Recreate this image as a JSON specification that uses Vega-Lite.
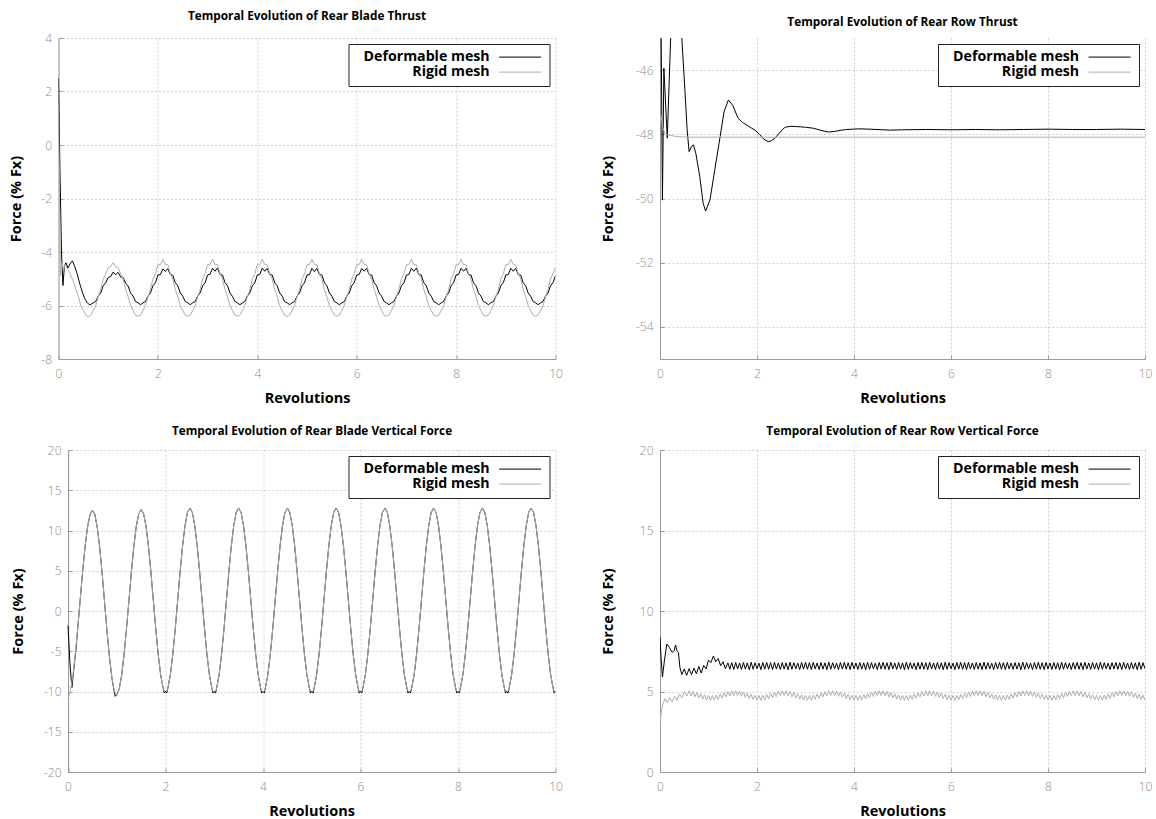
{
  "$schema": "https://vega.github.io/schema/vega-lite/v6.json",
  "background": "white",
  "padding": {"left": 7.5, "top": 11, "right": 0, "bottom": 0},
  "config": {
    "font": "Open Sans",
    "view": {"stroke": null},
    "locale": {"number": {"decimal": ".", "thousands": ",", "grouping": [3], "currency": ["", ""], "minus": "-"}},
    "title": {"font": "Open Sans", "fontSize": 11.8, "fontWeight": "bold", "color": "#000000", "offset": 9},
    "axis": {
      "domainColor": "#9a9a9a", "domainWidth": 1,
      "grid": true, "gridColor": "#cfcfcf", "gridDash": [2, 2], "gridWidth": 1,
      "ticks": true, "tickColor": "#9a9a9a", "tickSize": -4,
      "labelColor": "#8c8c8c", "labelFont": "Open Sans", "labelFontSize": 12, "labelFontWeight": 300, "labelFlush": false, "labelPadding": 11,
      "titleColor": "#000000", "titleFont": "Open Sans", "titleFontSize": 14.5, "titleFontWeight": "bold"
    },
    "axisX": {"titlePadding": 12, "labelPadding": 13},
    "axisY": {"titlePadding": 17.5},
    "legend": {
      "orient": "top-right", "offset": 6, "title": null,
      "strokeColor": "#222222", "fillColor": "#ffffff", "padding": 6, "rowPadding": 0,
      "symbolType": "M-4.2,0H4.2", "symbolSize": 100, "symbolStrokeWidth": 1, "symbolOffset": 158.5,
      "labelAlign": "right", "labelOffset": -37.5, "labelFont": "Open Sans", "labelFontSize": 14.2, "labelFontWeight": "bold", "labelColor": "#000000"
    }
  },
  "datasets": {
    "bladeThrustDef": [
      {"x":0,"y":2.5},{"x":0.03,"y":-1},{"x":0.06,"y":-4},{"x":0.09,"y":-5.25},{"x":0.12,"y":-4.5},{"x":0.15,"y":-4.4},{"x":0.19,"y":-4.6},{"x":0.23,"y":-4.45},{"x":0.28,"y":-4.33},{"x":0.33,"y":-4.55},{"x":0.38,"y":-4.85},{"x":0.43,"y":-5.2},{"x":0.48,"y":-5.5},{"x":0.53,"y":-5.75},{"x":0.58,"y":-5.9},{"x":0.63,"y":-5.98},{"x":0.7,"y":-5.9},{"x":0.75,"y":-5.85},{"x":0.8,"y":-5.65},{"x":0.85,"y":-5.53},{"x":0.9,"y":-5.26},{"x":0.95,"y":-5.15},
      {"x":1,"y":-4.95},{"x":1.05,"y":-4.92},{"x":1.1,"y":-4.75},{"x":1.15,"y":-4.85},{"x":1.2,"y":-4.76},{"x":1.25,"y":-4.93},{"x":1.3,"y":-4.95},{"x":1.35,"y":-5.17},{"x":1.4,"y":-5.27},{"x":1.45,"y":-5.53},{"x":1.5,"y":-5.65},{"x":1.55,"y":-5.85},{"x":1.6,"y":-5.9},{"x":1.65,"y":-5.97},{"x":1.7,"y":-5.9},{"x":1.75,"y":-5.85},{"x":1.8,"y":-5.65},{"x":1.85,"y":-5.53},{"x":1.9,"y":-5.26},{"x":1.95,"y":-5.15},
      {"x":2,"y":-4.86},{"x":2.05,"y":-4.84},{"x":2.1,"y":-4.63},{"x":2.15,"y":-4.73},{"x":2.2,"y":-4.62},{"x":2.25,"y":-4.84},{"x":2.3,"y":-4.87},{"x":2.35,"y":-5.15},{"x":2.4,"y":-5.26},{"x":2.45,"y":-5.53},{"x":2.5,"y":-5.65},{"x":2.55,"y":-5.85},{"x":2.6,"y":-5.9},{"x":2.65,"y":-5.97},{"x":2.7,"y":-5.9},{"x":2.75,"y":-5.85},{"x":2.8,"y":-5.65},{"x":2.85,"y":-5.53},{"x":2.9,"y":-5.26},{"x":2.95,"y":-5.15},
      {"x":3,"y":-4.86},{"x":3.05,"y":-4.83},{"x":3.1,"y":-4.61},{"x":3.15,"y":-4.72},{"x":3.2,"y":-4.6},{"x":3.25,"y":-4.84},{"x":3.3,"y":-4.86},{"x":3.35,"y":-5.14},{"x":3.4,"y":-5.26},{"x":3.45,"y":-5.53},{"x":3.5,"y":-5.66},{"x":3.55,"y":-5.85},{"x":3.6,"y":-5.9},{"x":3.65,"y":-5.97},{"x":3.7,"y":-5.91},{"x":3.75,"y":-5.85},{"x":3.8,"y":-5.65},{"x":3.85,"y":-5.53},{"x":3.9,"y":-5.26},{"x":3.95,"y":-5.15},
      {"x":4,"y":-4.86},{"x":4.05,"y":-4.84},{"x":4.1,"y":-4.6},{"x":4.15,"y":-4.72},{"x":4.2,"y":-4.61},{"x":4.25,"y":-4.84},{"x":4.3,"y":-4.86},{"x":4.35,"y":-5.15},{"x":4.4,"y":-5.26},{"x":4.45,"y":-5.53},{"x":4.5,"y":-5.65},{"x":4.55,"y":-5.85},{"x":4.6,"y":-5.9},{"x":4.65,"y":-5.97},{"x":4.7,"y":-5.9},{"x":4.75,"y":-5.85},{"x":4.8,"y":-5.65},{"x":4.85,"y":-5.53},{"x":4.9,"y":-5.26},{"x":4.95,"y":-5.15},
      {"x":5,"y":-4.86},{"x":5.05,"y":-4.84},{"x":5.1,"y":-4.61},{"x":5.15,"y":-4.73},{"x":5.2,"y":-4.61},{"x":5.25,"y":-4.84},{"x":5.3,"y":-4.86},{"x":5.35,"y":-5.15},{"x":5.4,"y":-5.26},{"x":5.45,"y":-5.53},{"x":5.5,"y":-5.65},{"x":5.55,"y":-5.85},{"x":5.6,"y":-5.9},{"x":5.65,"y":-5.97},{"x":5.7,"y":-5.9},{"x":5.75,"y":-5.85},{"x":5.8,"y":-5.65},{"x":5.85,"y":-5.53},{"x":5.9,"y":-5.26},{"x":5.95,"y":-5.15},
      {"x":6,"y":-4.86},{"x":6.05,"y":-4.84},{"x":6.1,"y":-4.62},{"x":6.15,"y":-4.72},{"x":6.2,"y":-4.61},{"x":6.25,"y":-4.84},{"x":6.3,"y":-4.86},{"x":6.35,"y":-5.15},{"x":6.4,"y":-5.26},{"x":6.45,"y":-5.53},{"x":6.5,"y":-5.65},{"x":6.55,"y":-5.85},{"x":6.6,"y":-5.9},{"x":6.65,"y":-5.97},{"x":6.7,"y":-5.9},{"x":6.75,"y":-5.85},{"x":6.8,"y":-5.65},{"x":6.85,"y":-5.53},{"x":6.9,"y":-5.26},{"x":6.95,"y":-5.15},
      {"x":7,"y":-4.86},{"x":7.05,"y":-4.84},{"x":7.1,"y":-4.61},{"x":7.15,"y":-4.72},{"x":7.2,"y":-4.6},{"x":7.25,"y":-4.84},{"x":7.3,"y":-4.86},{"x":7.35,"y":-5.15},{"x":7.4,"y":-5.26},{"x":7.45,"y":-5.53},{"x":7.5,"y":-5.65},{"x":7.55,"y":-5.85},{"x":7.6,"y":-5.9},{"x":7.65,"y":-5.97},{"x":7.7,"y":-5.9},{"x":7.75,"y":-5.85},{"x":7.8,"y":-5.65},{"x":7.85,"y":-5.53},{"x":7.9,"y":-5.26},{"x":7.95,"y":-5.15},
      {"x":8,"y":-4.86},{"x":8.05,"y":-4.84},{"x":8.1,"y":-4.61},{"x":8.15,"y":-4.72},{"x":8.2,"y":-4.61},{"x":8.25,"y":-4.84},{"x":8.3,"y":-4.86},{"x":8.35,"y":-5.15},{"x":8.4,"y":-5.26},{"x":8.45,"y":-5.53},{"x":8.5,"y":-5.65},{"x":8.55,"y":-5.85},{"x":8.6,"y":-5.9},{"x":8.65,"y":-5.97},{"x":8.7,"y":-5.9},{"x":8.75,"y":-5.85},{"x":8.8,"y":-5.65},{"x":8.85,"y":-5.53},{"x":8.9,"y":-5.26},{"x":8.95,"y":-5.15},
      {"x":9,"y":-4.86},{"x":9.05,"y":-4.84},{"x":9.1,"y":-4.61},{"x":9.15,"y":-4.72},{"x":9.2,"y":-4.61},{"x":9.25,"y":-4.84},{"x":9.3,"y":-4.86},{"x":9.35,"y":-5.15},{"x":9.4,"y":-5.26},{"x":9.45,"y":-5.53},{"x":9.5,"y":-5.65},{"x":9.55,"y":-5.85},{"x":9.6,"y":-5.9},{"x":9.65,"y":-5.97},{"x":9.7,"y":-5.9},{"x":9.75,"y":-5.85},{"x":9.8,"y":-5.65},{"x":9.85,"y":-5.53},{"x":9.9,"y":-5.26},{"x":9.95,"y":-5.15},
      {"x":10,"y":-4.88}
    ],
    "bladeThrustRig": [
      {"x":0,"y":1.5},{"x":0.02,"y":-2},{"x":0.04,"y":-4.9},{"x":0.07,"y":-4.4},{"x":0.1,"y":-4.7},{"x":0.13,"y":-4.45},{"x":0.17,"y":-4.6},{"x":0.21,"y":-4.7},{"x":0.25,"y":-4.9},{"x":0.3,"y":-5.1},{"x":0.35,"y":-5.4},{"x":0.4,"y":-5.67},{"x":0.45,"y":-6},{"x":0.5,"y":-6.19},{"x":0.55,"y":-6.36},{"x":0.6,"y":-6.42},{"x":0.65,"y":-6.36},{"x":0.7,"y":-6.19},{"x":0.75,"y":-6},{"x":0.8,"y":-5.67},{"x":0.85,"y":-5.4},{"x":0.9,"y":-5.01},{"x":0.95,"y":-4.81},
      {"x":1,"y":-4.58},{"x":1.05,"y":-4.55},{"x":1.1,"y":-4.4},{"x":1.15,"y":-4.55},{"x":1.2,"y":-4.58},{"x":1.25,"y":-4.81},{"x":1.3,"y":-5.01},{"x":1.35,"y":-5.4},{"x":1.4,"y":-5.67},{"x":1.45,"y":-6},{"x":1.5,"y":-6.19},{"x":1.55,"y":-6.36},{"x":1.6,"y":-6.4},{"x":1.65,"y":-6.36},{"x":1.7,"y":-6.19},{"x":1.75,"y":-6},{"x":1.8,"y":-5.67},{"x":1.85,"y":-5.4},{"x":1.9,"y":-5.01},{"x":1.95,"y":-4.81},
      {"x":2,"y":-4.48},{"x":2.05,"y":-4.47},{"x":2.1,"y":-4.28},{"x":2.15,"y":-4.47},{"x":2.2,"y":-4.48},{"x":2.25,"y":-4.81},{"x":2.3,"y":-5.01},{"x":2.35,"y":-5.4},{"x":2.4,"y":-5.67},{"x":2.45,"y":-6},{"x":2.5,"y":-6.19},{"x":2.55,"y":-6.36},{"x":2.6,"y":-6.4},{"x":2.65,"y":-6.36},{"x":2.7,"y":-6.19},{"x":2.75,"y":-6},{"x":2.8,"y":-5.67},{"x":2.85,"y":-5.4},{"x":2.9,"y":-5.01},{"x":2.95,"y":-4.81},
      {"x":3,"y":-4.48},{"x":3.05,"y":-4.46},{"x":3.1,"y":-4.27},{"x":3.15,"y":-4.47},{"x":3.2,"y":-4.47},{"x":3.25,"y":-4.81},{"x":3.3,"y":-5.01},{"x":3.35,"y":-5.4},{"x":3.4,"y":-5.67},{"x":3.45,"y":-6},{"x":3.5,"y":-6.19},{"x":3.55,"y":-6.36},{"x":3.6,"y":-6.4},{"x":3.65,"y":-6.36},{"x":3.7,"y":-6.19},{"x":3.75,"y":-6},{"x":3.8,"y":-5.67},{"x":3.85,"y":-5.4},{"x":3.9,"y":-5.01},{"x":3.95,"y":-4.81},
      {"x":4,"y":-4.48},{"x":4.05,"y":-4.47},{"x":4.1,"y":-4.27},{"x":4.15,"y":-4.47},{"x":4.2,"y":-4.48},{"x":4.25,"y":-4.81},{"x":4.3,"y":-5.01},{"x":4.35,"y":-5.4},{"x":4.4,"y":-5.67},{"x":4.45,"y":-6},{"x":4.5,"y":-6.19},{"x":4.55,"y":-6.36},{"x":4.6,"y":-6.41},{"x":4.65,"y":-6.36},{"x":4.7,"y":-6.19},{"x":4.75,"y":-6},{"x":4.8,"y":-5.67},{"x":4.85,"y":-5.4},{"x":4.9,"y":-5.01},{"x":4.95,"y":-4.81},
      {"x":5,"y":-4.48},{"x":5.05,"y":-4.47},{"x":5.1,"y":-4.27},{"x":5.15,"y":-4.47},{"x":5.2,"y":-4.48},{"x":5.25,"y":-4.81},{"x":5.3,"y":-5.01},{"x":5.35,"y":-5.4},{"x":5.4,"y":-5.67},{"x":5.45,"y":-6},{"x":5.5,"y":-6.19},{"x":5.55,"y":-6.36},{"x":5.6,"y":-6.4},{"x":5.65,"y":-6.36},{"x":5.7,"y":-6.19},{"x":5.75,"y":-6},{"x":5.8,"y":-5.67},{"x":5.85,"y":-5.4},{"x":5.9,"y":-5.01},{"x":5.95,"y":-4.81},
      {"x":6,"y":-4.48},{"x":6.05,"y":-4.47},{"x":6.1,"y":-4.27},{"x":6.15,"y":-4.47},{"x":6.2,"y":-4.48},{"x":6.25,"y":-4.81},{"x":6.3,"y":-5.01},{"x":6.35,"y":-5.4},{"x":6.4,"y":-5.67},{"x":6.45,"y":-6},{"x":6.5,"y":-6.19},{"x":6.55,"y":-6.36},{"x":6.6,"y":-6.4},{"x":6.65,"y":-6.36},{"x":6.7,"y":-6.19},{"x":6.75,"y":-6},{"x":6.8,"y":-5.67},{"x":6.85,"y":-5.4},{"x":6.9,"y":-5.01},{"x":6.95,"y":-4.81},
      {"x":7,"y":-4.48},{"x":7.05,"y":-4.47},{"x":7.1,"y":-4.27},{"x":7.15,"y":-4.47},{"x":7.2,"y":-4.48},{"x":7.25,"y":-4.81},{"x":7.3,"y":-5.01},{"x":7.35,"y":-5.4},{"x":7.4,"y":-5.67},{"x":7.45,"y":-6},{"x":7.5,"y":-6.19},{"x":7.55,"y":-6.36},{"x":7.6,"y":-6.4},{"x":7.65,"y":-6.36},{"x":7.7,"y":-6.19},{"x":7.75,"y":-6},{"x":7.8,"y":-5.67},{"x":7.85,"y":-5.4},{"x":7.9,"y":-5.01},{"x":7.95,"y":-4.81},
      {"x":8,"y":-4.48},{"x":8.05,"y":-4.47},{"x":8.1,"y":-4.27},{"x":8.15,"y":-4.47},{"x":8.2,"y":-4.48},{"x":8.25,"y":-4.81},{"x":8.3,"y":-5.01},{"x":8.35,"y":-5.4},{"x":8.4,"y":-5.67},{"x":8.45,"y":-6},{"x":8.5,"y":-6.19},{"x":8.55,"y":-6.36},{"x":8.6,"y":-6.4},{"x":8.65,"y":-6.36},{"x":8.7,"y":-6.19},{"x":8.75,"y":-6},{"x":8.8,"y":-5.67},{"x":8.85,"y":-5.4},{"x":8.9,"y":-5.01},{"x":8.95,"y":-4.81},
      {"x":9,"y":-4.48},{"x":9.05,"y":-4.47},{"x":9.1,"y":-4.27},{"x":9.15,"y":-4.47},{"x":9.2,"y":-4.48},{"x":9.25,"y":-4.81},{"x":9.3,"y":-5.01},{"x":9.35,"y":-5.4},{"x":9.4,"y":-5.67},{"x":9.45,"y":-6},{"x":9.5,"y":-6.19},{"x":9.55,"y":-6.36},{"x":9.6,"y":-6.4},{"x":9.65,"y":-6.36},{"x":9.7,"y":-6.19},{"x":9.75,"y":-6},{"x":9.8,"y":-5.67},{"x":9.85,"y":-5.4},{"x":9.9,"y":-5.01},{"x":9.95,"y":-4.81},
      {"x":10,"y":-4.56}
    ],
    "rowThrustDef": [
      {"x":0,"y":-40},{"x":0.02,"y":-44},{"x":0.05,"y":-50.05},{"x":0.08,"y":-45.94},{"x":0.15,"y":-48.12},{"x":0.22,"y":-45},{"x":0.3,"y":-42},{"x":0.38,"y":-42},{"x":0.45,"y":-45},{"x":0.52,"y":-46.8},{"x":0.56,"y":-47.87},{"x":0.6,"y":-48.54},{"x":0.65,"y":-48.38},{"x":0.69,"y":-48.33},{"x":0.74,"y":-48.6},{"x":0.82,"y":-49.32},{"x":0.89,"y":-50.15},{"x":0.94,"y":-50.39},{"x":1.03,"y":-50.05},{"x":1.13,"y":-49.1},{"x":1.24,"y":-48.07},{"x":1.32,"y":-47.3},{"x":1.41,"y":-46.93},{"x":1.5,"y":-47.1},{"x":1.61,"y":-47.5},{"x":1.7,"y":-47.63},{"x":1.79,"y":-47.71},{"x":1.88,"y":-47.8},{"x":1.96,"y":-47.87},{"x":2.05,"y":-48},{"x":2.14,"y":-48.15},{"x":2.23,"y":-48.23},{"x":2.3,"y":-48.2},{"x":2.37,"y":-48.12},{"x":2.45,"y":-47.98},{"x":2.52,"y":-47.86},{"x":2.58,"y":-47.78},{"x":2.7,"y":-47.75},{"x":2.82,"y":-47.76},{"x":3,"y":-47.78},{"x":3.16,"y":-47.81},{"x":3.3,"y":-47.87},{"x":3.47,"y":-47.93},{"x":3.6,"y":-47.91},{"x":3.75,"y":-47.87},{"x":3.85,"y":-47.85},{"x":4.1,"y":-47.83},{"x":4.33,"y":-47.84},{"x":4.74,"y":-47.87},{"x":5,"y":-47.86},{"x":5.5,"y":-47.85},{"x":6,"y":-47.86},{"x":6.5,"y":-47.85},{"x":7,"y":-47.86},{"x":7.5,"y":-47.85},{"x":8,"y":-47.84},{"x":8.5,"y":-47.85},{"x":9,"y":-47.85},{"x":9.5,"y":-47.84},{"x":10,"y":-47.85}
    ],
    "rowThrustRig": [
      {"x":0,"y":-47.6},{"x":0.02,"y":-47.4},{"x":0.05,"y":-47.75},{"x":0.1,"y":-47.97},{"x":0.2,"y":-48.03},{"x":0.34,"y":-48.07},{"x":0.55,"y":-48.09},{"x":1,"y":-48.09},{"x":3,"y":-48.09},{"x":6,"y":-48.09},{"x":10,"y":-48.09}
    ],
    "bladeVertDef": [
      {"x":0,"y":-1.8},{"x":0.04,"y":-6.5},{"x":0.08,"y":-9.5},{"x":0.12,"y":-7.2},{"x":0.16,"y":-5},{"x":0.2,"y":-2.1},{"x":0.25,"y":1.4},{"x":0.3,"y":4.9},{"x":0.35,"y":8},{"x":0.4,"y":10.4},{"x":0.45,"y":11.95},{"x":0.5,"y":12.5},{"x":0.55,"y":12},{"x":0.6,"y":10.4},{"x":0.65,"y":7.9},{"x":0.7,"y":4.7},{"x":0.75,"y":1.1},{"x":0.8,"y":-2.5},{"x":0.85,"y":-5.7},{"x":0.9,"y":-8.3},{"x":0.95,"y":-10.1},{"x":0.97,"y":-10.6},{"x":1,"y":-10.4},{"x":1.05,"y":-9.7},{"x":1.1,"y":-8},{"x":1.15,"y":-5.4},{"x":1.2,"y":-2.2},{"x":1.25,"y":1.3},{"x":1.3,"y":4.85},{"x":1.35,"y":8},{"x":1.4,"y":10.5},{"x":1.45,"y":12.05},{"x":1.5,"y":12.6},{"x":1.55,"y":12.1},{"x":1.6,"y":10.55},{"x":1.65,"y":8.05},{"x":1.7,"y":4.88},{"x":1.75,"y":1.35},{"x":1.8,"y":-2.19},{"x":1.85,"y":-5.38},{"x":1.9,"y":-7.91},{"x":1.95,"y":-9.54},
      {"x":1.975,"y":-10.2},{"x":2,"y":-9.95},{"x":2.025,"y":-10.2},{"x":2.05,"y":-9.54},{"x":2.1,"y":-7.91},{"x":2.15,"y":-5.38},{"x":2.2,"y":-2.19},{"x":2.25,"y":1.35},{"x":2.3,"y":4.89},{"x":2.35,"y":8.08},{"x":2.4,"y":10.61},{"x":2.45,"y":12.24},{"x":2.5,"y":12.8},{"x":2.55,"y":12.24},{"x":2.6,"y":10.61},{"x":2.65,"y":8.08},{"x":2.7,"y":4.89},{"x":2.75,"y":1.35},{"x":2.8,"y":-2.19},{"x":2.85,"y":-5.38},{"x":2.9,"y":-7.91},{"x":2.95,"y":-9.54},
      {"x":2.975,"y":-10.2},{"x":3,"y":-9.95},{"x":3.025,"y":-10.2},{"x":3.05,"y":-9.54},{"x":3.1,"y":-7.91},{"x":3.15,"y":-5.38},{"x":3.2,"y":-2.19},{"x":3.25,"y":1.35},{"x":3.3,"y":4.89},{"x":3.35,"y":8.08},{"x":3.4,"y":10.61},{"x":3.45,"y":12.24},{"x":3.5,"y":12.8},{"x":3.55,"y":12.24},{"x":3.6,"y":10.61},{"x":3.65,"y":8.08},{"x":3.7,"y":4.89},{"x":3.75,"y":1.35},{"x":3.8,"y":-2.19},{"x":3.85,"y":-5.38},{"x":3.9,"y":-7.91},{"x":3.95,"y":-9.54},
      {"x":3.975,"y":-10.2},{"x":4,"y":-9.95},{"x":4.025,"y":-10.2},{"x":4.05,"y":-9.54},{"x":4.1,"y":-7.91},{"x":4.15,"y":-5.38},{"x":4.2,"y":-2.19},{"x":4.25,"y":1.35},{"x":4.3,"y":4.89},{"x":4.35,"y":8.08},{"x":4.4,"y":10.61},{"x":4.45,"y":12.24},{"x":4.5,"y":12.8},{"x":4.55,"y":12.24},{"x":4.6,"y":10.61},{"x":4.65,"y":8.08},{"x":4.7,"y":4.89},{"x":4.75,"y":1.35},{"x":4.8,"y":-2.19},{"x":4.85,"y":-5.38},{"x":4.9,"y":-7.91},{"x":4.95,"y":-9.54},
      {"x":4.975,"y":-10.2},{"x":5,"y":-9.95},{"x":5.025,"y":-10.2},{"x":5.05,"y":-9.54},{"x":5.1,"y":-7.91},{"x":5.15,"y":-5.38},{"x":5.2,"y":-2.19},{"x":5.25,"y":1.35},{"x":5.3,"y":4.89},{"x":5.35,"y":8.08},{"x":5.4,"y":10.61},{"x":5.45,"y":12.24},{"x":5.5,"y":12.8},{"x":5.55,"y":12.24},{"x":5.6,"y":10.61},{"x":5.65,"y":8.08},{"x":5.7,"y":4.89},{"x":5.75,"y":1.35},{"x":5.8,"y":-2.19},{"x":5.85,"y":-5.38},{"x":5.9,"y":-7.91},{"x":5.95,"y":-9.54},
      {"x":5.975,"y":-10.2},{"x":6,"y":-9.95},{"x":6.025,"y":-10.2},{"x":6.05,"y":-9.54},{"x":6.1,"y":-7.91},{"x":6.15,"y":-5.38},{"x":6.2,"y":-2.19},{"x":6.25,"y":1.35},{"x":6.3,"y":4.89},{"x":6.35,"y":8.08},{"x":6.4,"y":10.61},{"x":6.45,"y":12.24},{"x":6.5,"y":12.8},{"x":6.55,"y":12.24},{"x":6.6,"y":10.61},{"x":6.65,"y":8.08},{"x":6.7,"y":4.89},{"x":6.75,"y":1.35},{"x":6.8,"y":-2.19},{"x":6.85,"y":-5.38},{"x":6.9,"y":-7.91},{"x":6.95,"y":-9.54},
      {"x":6.975,"y":-10.2},{"x":7,"y":-9.95},{"x":7.025,"y":-10.2},{"x":7.05,"y":-9.54},{"x":7.1,"y":-7.91},{"x":7.15,"y":-5.38},{"x":7.2,"y":-2.19},{"x":7.25,"y":1.35},{"x":7.3,"y":4.89},{"x":7.35,"y":8.08},{"x":7.4,"y":10.61},{"x":7.45,"y":12.24},{"x":7.5,"y":12.8},{"x":7.55,"y":12.24},{"x":7.6,"y":10.61},{"x":7.65,"y":8.08},{"x":7.7,"y":4.89},{"x":7.75,"y":1.35},{"x":7.8,"y":-2.19},{"x":7.85,"y":-5.38},{"x":7.9,"y":-7.91},{"x":7.95,"y":-9.54},
      {"x":7.975,"y":-10.2},{"x":8,"y":-9.95},{"x":8.025,"y":-10.2},{"x":8.05,"y":-9.54},{"x":8.1,"y":-7.91},{"x":8.15,"y":-5.38},{"x":8.2,"y":-2.19},{"x":8.25,"y":1.35},{"x":8.3,"y":4.89},{"x":8.35,"y":8.08},{"x":8.4,"y":10.61},{"x":8.45,"y":12.24},{"x":8.5,"y":12.8},{"x":8.55,"y":12.24},{"x":8.6,"y":10.61},{"x":8.65,"y":8.08},{"x":8.7,"y":4.89},{"x":8.75,"y":1.35},{"x":8.8,"y":-2.19},{"x":8.85,"y":-5.38},{"x":8.9,"y":-7.91},{"x":8.95,"y":-9.54},
      {"x":8.975,"y":-10.2},{"x":9,"y":-9.95},{"x":9.025,"y":-10.2},{"x":9.05,"y":-9.54},{"x":9.1,"y":-7.91},{"x":9.15,"y":-5.38},{"x":9.2,"y":-2.19},{"x":9.25,"y":1.35},{"x":9.3,"y":4.89},{"x":9.35,"y":8.08},{"x":9.4,"y":10.61},{"x":9.45,"y":12.24},{"x":9.5,"y":12.8},{"x":9.55,"y":12.24},{"x":9.6,"y":10.61},{"x":9.65,"y":8.08},{"x":9.7,"y":4.89},{"x":9.75,"y":1.35},{"x":9.8,"y":-2.19},{"x":9.85,"y":-5.38},{"x":9.9,"y":-7.91},{"x":9.95,"y":-9.54},
      {"x":9.975,"y":-10.2},{"x":10,"y":-10}
    ],
    "bladeVertRig": [
      {"x":0,"y":-10.9},{"x":0.05,"y":-9.9},{"x":0.1,"y":-8},{"x":0.15,"y":-5.3},{"x":0.2,"y":-2.1},{"x":0.25,"y":1.4},{"x":0.3,"y":4.9},{"x":0.35,"y":8},{"x":0.4,"y":10.4},{"x":0.45,"y":11.95},{"x":0.5,"y":12.5},{"x":0.55,"y":12},{"x":0.6,"y":10.4},{"x":0.65,"y":7.9},{"x":0.7,"y":4.7},{"x":0.75,"y":1.1},{"x":0.8,"y":-2.5},{"x":0.85,"y":-5.7},{"x":0.9,"y":-8.3},{"x":0.95,"y":-9.95},{"x":1,"y":-10.4},{"x":1.05,"y":-9.75},{"x":1.1,"y":-8},{"x":1.15,"y":-5.4},{"x":1.2,"y":-2.2},{"x":1.25,"y":1.3},{"x":1.3,"y":4.85},{"x":1.35,"y":8},{"x":1.4,"y":10.5},{"x":1.45,"y":12.05},{"x":1.5,"y":12.6},{"x":1.55,"y":12.1},{"x":1.6,"y":10.55},{"x":1.65,"y":8.05},{"x":1.7,"y":4.88},{"x":1.75,"y":1.35},{"x":1.8,"y":-2.19},{"x":1.85,"y":-5.38},{"x":1.9,"y":-7.91},{"x":1.95,"y":-9.54},
      {"x":1.975,"y":-9.96},{"x":2,"y":-10.1},{"x":2.025,"y":-9.96},{"x":2.05,"y":-9.54},{"x":2.1,"y":-7.91},{"x":2.15,"y":-5.38},{"x":2.2,"y":-2.19},{"x":2.25,"y":1.35},{"x":2.3,"y":4.89},{"x":2.35,"y":8.08},{"x":2.4,"y":10.61},{"x":2.45,"y":12.24},{"x":2.5,"y":12.8},{"x":2.55,"y":12.24},{"x":2.6,"y":10.61},{"x":2.65,"y":8.08},{"x":2.7,"y":4.89},{"x":2.75,"y":1.35},{"x":2.8,"y":-2.19},{"x":2.85,"y":-5.38},{"x":2.9,"y":-7.91},{"x":2.95,"y":-9.54},
      {"x":2.975,"y":-9.96},{"x":3,"y":-10.1},{"x":3.025,"y":-9.96},{"x":3.05,"y":-9.54},{"x":3.1,"y":-7.91},{"x":3.15,"y":-5.38},{"x":3.2,"y":-2.19},{"x":3.25,"y":1.35},{"x":3.3,"y":4.89},{"x":3.35,"y":8.08},{"x":3.4,"y":10.61},{"x":3.45,"y":12.24},{"x":3.5,"y":12.8},{"x":3.55,"y":12.24},{"x":3.6,"y":10.61},{"x":3.65,"y":8.08},{"x":3.7,"y":4.89},{"x":3.75,"y":1.35},{"x":3.8,"y":-2.19},{"x":3.85,"y":-5.38},{"x":3.9,"y":-7.91},{"x":3.95,"y":-9.54},
      {"x":3.975,"y":-9.96},{"x":4,"y":-10.1},{"x":4.025,"y":-9.96},{"x":4.05,"y":-9.54},{"x":4.1,"y":-7.91},{"x":4.15,"y":-5.38},{"x":4.2,"y":-2.19},{"x":4.25,"y":1.35},{"x":4.3,"y":4.89},{"x":4.35,"y":8.08},{"x":4.4,"y":10.61},{"x":4.45,"y":12.24},{"x":4.5,"y":12.8},{"x":4.55,"y":12.24},{"x":4.6,"y":10.61},{"x":4.65,"y":8.08},{"x":4.7,"y":4.89},{"x":4.75,"y":1.35},{"x":4.8,"y":-2.19},{"x":4.85,"y":-5.38},{"x":4.9,"y":-7.91},{"x":4.95,"y":-9.54},
      {"x":4.975,"y":-9.96},{"x":5,"y":-10.1},{"x":5.025,"y":-9.96},{"x":5.05,"y":-9.54},{"x":5.1,"y":-7.91},{"x":5.15,"y":-5.38},{"x":5.2,"y":-2.19},{"x":5.25,"y":1.35},{"x":5.3,"y":4.89},{"x":5.35,"y":8.08},{"x":5.4,"y":10.61},{"x":5.45,"y":12.24},{"x":5.5,"y":12.8},{"x":5.55,"y":12.24},{"x":5.6,"y":10.61},{"x":5.65,"y":8.08},{"x":5.7,"y":4.89},{"x":5.75,"y":1.35},{"x":5.8,"y":-2.19},{"x":5.85,"y":-5.38},{"x":5.9,"y":-7.91},{"x":5.95,"y":-9.54},
      {"x":5.975,"y":-9.96},{"x":6,"y":-10.1},{"x":6.025,"y":-9.96},{"x":6.05,"y":-9.54},{"x":6.1,"y":-7.91},{"x":6.15,"y":-5.38},{"x":6.2,"y":-2.19},{"x":6.25,"y":1.35},{"x":6.3,"y":4.89},{"x":6.35,"y":8.08},{"x":6.4,"y":10.61},{"x":6.45,"y":12.24},{"x":6.5,"y":12.8},{"x":6.55,"y":12.24},{"x":6.6,"y":10.61},{"x":6.65,"y":8.08},{"x":6.7,"y":4.89},{"x":6.75,"y":1.35},{"x":6.8,"y":-2.19},{"x":6.85,"y":-5.38},{"x":6.9,"y":-7.91},{"x":6.95,"y":-9.54},
      {"x":6.975,"y":-9.96},{"x":7,"y":-10.1},{"x":7.025,"y":-9.96},{"x":7.05,"y":-9.54},{"x":7.1,"y":-7.91},{"x":7.15,"y":-5.38},{"x":7.2,"y":-2.19},{"x":7.25,"y":1.35},{"x":7.3,"y":4.89},{"x":7.35,"y":8.08},{"x":7.4,"y":10.61},{"x":7.45,"y":12.24},{"x":7.5,"y":12.8},{"x":7.55,"y":12.24},{"x":7.6,"y":10.61},{"x":7.65,"y":8.08},{"x":7.7,"y":4.89},{"x":7.75,"y":1.35},{"x":7.8,"y":-2.19},{"x":7.85,"y":-5.38},{"x":7.9,"y":-7.91},{"x":7.95,"y":-9.54},
      {"x":7.975,"y":-9.96},{"x":8,"y":-10.1},{"x":8.025,"y":-9.96},{"x":8.05,"y":-9.54},{"x":8.1,"y":-7.91},{"x":8.15,"y":-5.38},{"x":8.2,"y":-2.19},{"x":8.25,"y":1.35},{"x":8.3,"y":4.89},{"x":8.35,"y":8.08},{"x":8.4,"y":10.61},{"x":8.45,"y":12.24},{"x":8.5,"y":12.8},{"x":8.55,"y":12.24},{"x":8.6,"y":10.61},{"x":8.65,"y":8.08},{"x":8.7,"y":4.89},{"x":8.75,"y":1.35},{"x":8.8,"y":-2.19},{"x":8.85,"y":-5.38},{"x":8.9,"y":-7.91},{"x":8.95,"y":-9.54},
      {"x":8.975,"y":-9.96},{"x":9,"y":-10.1},{"x":9.025,"y":-9.96},{"x":9.05,"y":-9.54},{"x":9.1,"y":-7.91},{"x":9.15,"y":-5.38},{"x":9.2,"y":-2.19},{"x":9.25,"y":1.35},{"x":9.3,"y":4.89},{"x":9.35,"y":8.08},{"x":9.4,"y":10.61},{"x":9.45,"y":12.24},{"x":9.5,"y":12.8},{"x":9.55,"y":12.24},{"x":9.6,"y":10.61},{"x":9.65,"y":8.08},{"x":9.7,"y":4.89},{"x":9.75,"y":1.35},{"x":9.8,"y":-2.19},{"x":9.85,"y":-5.38},{"x":9.9,"y":-7.91},{"x":9.95,"y":-9.54},
      {"x":9.975,"y":-9.96},{"x":10,"y":-10.1}
    ],
    "rowVertDef": [
      {"x":0,"y":8.37},{"x":0.02,"y":7.2},{"x":0.05,"y":5.9},{"x":0.09,"y":6.9},{"x":0.14,"y":7.95},{"x":0.19,"y":7.75},{"x":0.23,"y":7.53},{"x":0.25,"y":7.43},{"x":0.29,"y":7.53},{"x":0.32,"y":7.89},{"x":0.35,"y":7.53},{"x":0.38,"y":7.43},{"x":0.41,"y":6.5},{"x":0.45,"y":6.05},{"x":0.5,"y":6.4},{"x":0.55,"y":6},{"x":0.6,"y":6.42},{"x":0.65,"y":6.05},{"x":0.7,"y":6.45},{"x":0.75,"y":6.1},{"x":0.8,"y":6.55},{"x":0.85,"y":6.15},{"x":0.9,"y":6.62},{"x":0.95,"y":6.4},{"x":1,"y":6.95},{"x":1.05,"y":6.8},{"x":1.1,"y":7.2},{"x":1.15,"y":6.85},{"x":1.2,"y":7.05},{"x":1.25,"y":6.6},{"x":1.3,"y":6.85},{"x":1.35,"y":6.42},{"x":1.4,"y":6.78},
      {"x":1.44,"y":6.38},{"x":1.48,"y":6.79},{"x":1.52,"y":6.36},{"x":1.56,"y":6.81},{"x":1.6,"y":6.4},{"x":1.64,"y":6.77},{"x":1.68,"y":6.37},{"x":1.72,"y":6.8},{"x":1.76,"y":6.39},{"x":1.8,"y":6.78},{"x":1.84,"y":6.35},{"x":1.88,"y":6.82},{"x":1.92,"y":6.38},{"x":1.96,"y":6.79},{"x":2,"y":6.41},{"x":2.04,"y":6.76},{"x":2.08,"y":6.36},{"x":2.12,"y":6.8},{"x":2.16,"y":6.39},{"x":2.2,"y":6.81},
      {"x":2.24,"y":6.38},{"x":2.28,"y":6.79},{"x":2.32,"y":6.36},{"x":2.36,"y":6.81},{"x":2.4,"y":6.4},{"x":2.44,"y":6.77},{"x":2.48,"y":6.37},{"x":2.52,"y":6.8},{"x":2.56,"y":6.39},{"x":2.6,"y":6.78},{"x":2.64,"y":6.35},{"x":2.68,"y":6.82},{"x":2.72,"y":6.38},{"x":2.76,"y":6.79},{"x":2.8,"y":6.41},{"x":2.84,"y":6.76},{"x":2.88,"y":6.36},{"x":2.92,"y":6.8},{"x":2.96,"y":6.39},{"x":3,"y":6.81},
      {"x":3.04,"y":6.38},{"x":3.08,"y":6.79},{"x":3.12,"y":6.36},{"x":3.16,"y":6.81},{"x":3.2,"y":6.4},{"x":3.24,"y":6.77},{"x":3.28,"y":6.37},{"x":3.32,"y":6.8},{"x":3.36,"y":6.39},{"x":3.4,"y":6.78},{"x":3.44,"y":6.35},{"x":3.48,"y":6.82},{"x":3.52,"y":6.38},{"x":3.56,"y":6.79},{"x":3.6,"y":6.41},{"x":3.64,"y":6.76},{"x":3.68,"y":6.36},{"x":3.72,"y":6.8},{"x":3.76,"y":6.39},{"x":3.8,"y":6.81},
      {"x":3.84,"y":6.38},{"x":3.88,"y":6.79},{"x":3.92,"y":6.36},{"x":3.96,"y":6.81},{"x":4,"y":6.4},{"x":4.04,"y":6.77},{"x":4.08,"y":6.37},{"x":4.12,"y":6.8},{"x":4.16,"y":6.39},{"x":4.2,"y":6.78},{"x":4.24,"y":6.35},{"x":4.28,"y":6.82},{"x":4.32,"y":6.38},{"x":4.36,"y":6.79},{"x":4.4,"y":6.41},{"x":4.44,"y":6.76},{"x":4.48,"y":6.36},{"x":4.52,"y":6.8},{"x":4.56,"y":6.39},{"x":4.6,"y":6.81},
      {"x":4.64,"y":6.38},{"x":4.68,"y":6.79},{"x":4.72,"y":6.36},{"x":4.76,"y":6.81},{"x":4.8,"y":6.4},{"x":4.84,"y":6.77},{"x":4.88,"y":6.37},{"x":4.92,"y":6.8},{"x":4.96,"y":6.39},{"x":5,"y":6.78},{"x":5.04,"y":6.35},{"x":5.08,"y":6.82},{"x":5.12,"y":6.38},{"x":5.16,"y":6.79},{"x":5.2,"y":6.41},{"x":5.24,"y":6.76},{"x":5.28,"y":6.36},{"x":5.32,"y":6.8},{"x":5.36,"y":6.39},{"x":5.4,"y":6.81},
      {"x":5.44,"y":6.38},{"x":5.48,"y":6.79},{"x":5.52,"y":6.36},{"x":5.56,"y":6.81},{"x":5.6,"y":6.4},{"x":5.64,"y":6.77},{"x":5.68,"y":6.37},{"x":5.72,"y":6.8},{"x":5.76,"y":6.39},{"x":5.8,"y":6.78},{"x":5.84,"y":6.35},{"x":5.88,"y":6.82},{"x":5.92,"y":6.38},{"x":5.96,"y":6.79},{"x":6,"y":6.41},{"x":6.04,"y":6.76},{"x":6.08,"y":6.36},{"x":6.12,"y":6.8},{"x":6.16,"y":6.39},{"x":6.2,"y":6.81},
      {"x":6.24,"y":6.38},{"x":6.28,"y":6.79},{"x":6.32,"y":6.36},{"x":6.36,"y":6.81},{"x":6.4,"y":6.4},{"x":6.44,"y":6.77},{"x":6.48,"y":6.37},{"x":6.52,"y":6.8},{"x":6.56,"y":6.39},{"x":6.6,"y":6.78},{"x":6.64,"y":6.35},{"x":6.68,"y":6.82},{"x":6.72,"y":6.38},{"x":6.76,"y":6.79},{"x":6.8,"y":6.41},{"x":6.84,"y":6.76},{"x":6.88,"y":6.36},{"x":6.92,"y":6.8},{"x":6.96,"y":6.39},{"x":7,"y":6.81},
      {"x":7.04,"y":6.38},{"x":7.08,"y":6.79},{"x":7.12,"y":6.36},{"x":7.16,"y":6.81},{"x":7.2,"y":6.4},{"x":7.24,"y":6.77},{"x":7.28,"y":6.37},{"x":7.32,"y":6.8},{"x":7.36,"y":6.39},{"x":7.4,"y":6.78},{"x":7.44,"y":6.35},{"x":7.48,"y":6.82},{"x":7.52,"y":6.38},{"x":7.56,"y":6.79},{"x":7.6,"y":6.41},{"x":7.64,"y":6.76},{"x":7.68,"y":6.36},{"x":7.72,"y":6.8},{"x":7.76,"y":6.39},{"x":7.8,"y":6.81},
      {"x":7.84,"y":6.38},{"x":7.88,"y":6.79},{"x":7.92,"y":6.36},{"x":7.96,"y":6.81},{"x":8,"y":6.4},{"x":8.04,"y":6.77},{"x":8.08,"y":6.37},{"x":8.12,"y":6.8},{"x":8.16,"y":6.39},{"x":8.2,"y":6.78},{"x":8.24,"y":6.35},{"x":8.28,"y":6.82},{"x":8.32,"y":6.38},{"x":8.36,"y":6.79},{"x":8.4,"y":6.41},{"x":8.44,"y":6.76},{"x":8.48,"y":6.36},{"x":8.52,"y":6.8},{"x":8.56,"y":6.39},{"x":8.6,"y":6.81},
      {"x":8.64,"y":6.38},{"x":8.68,"y":6.79},{"x":8.72,"y":6.36},{"x":8.76,"y":6.81},{"x":8.8,"y":6.4},{"x":8.84,"y":6.77},{"x":8.88,"y":6.37},{"x":8.92,"y":6.8},{"x":8.96,"y":6.39},{"x":9,"y":6.78},{"x":9.04,"y":6.35},{"x":9.08,"y":6.82},{"x":9.12,"y":6.38},{"x":9.16,"y":6.79},{"x":9.2,"y":6.41},{"x":9.24,"y":6.76},{"x":9.28,"y":6.36},{"x":9.32,"y":6.8},{"x":9.36,"y":6.39},{"x":9.4,"y":6.81},
      {"x":9.44,"y":6.38},{"x":9.48,"y":6.79},{"x":9.52,"y":6.36},{"x":9.56,"y":6.81},{"x":9.6,"y":6.4},{"x":9.64,"y":6.77},{"x":9.68,"y":6.37},{"x":9.72,"y":6.8},{"x":9.76,"y":6.39},{"x":9.8,"y":6.78},{"x":9.84,"y":6.35},{"x":9.88,"y":6.82},{"x":9.92,"y":6.38},{"x":9.96,"y":6.79},{"x":10,"y":6.41}
    ],
    "rowVertRig": [
      {"x":0,"y":3},{"x":0.02,"y":3.6},{"x":0.05,"y":4.1},{"x":0.1,"y":4.55},{"x":0.15,"y":4.3},{"x":0.2,"y":4.62},{"x":0.25,"y":4.35},{"x":0.3,"y":4.7},{"x":0.35,"y":4.45},{"x":0.4,"y":4.85},{"x":0.45,"y":4.62},{"x":0.5,"y":4.98},{"x":0.55,"y":4.72},
      {"x":0.6,"y":5.04},{"x":0.64,"y":4.73},{"x":0.68,"y":5},{"x":0.72,"y":4.67},{"x":0.76,"y":4.94},{"x":0.8,"y":4.6},{"x":0.84,"y":4.86},{"x":0.88,"y":4.53},{"x":0.92,"y":4.8},{"x":0.96,"y":4.47},
      {"x":1,"y":4.76},{"x":1.04,"y":4.45},{"x":1.08,"y":4.75},{"x":1.12,"y":4.46},{"x":1.16,"y":4.78},{"x":1.2,"y":4.51},{"x":1.24,"y":4.85},{"x":1.28,"y":4.58},{"x":1.32,"y":4.92},{"x":1.36,"y":4.66},{"x":1.4,"y":4.99},{"x":1.44,"y":4.72},{"x":1.48,"y":5.04},{"x":1.52,"y":4.75},{"x":1.56,"y":5.05},{"x":1.6,"y":4.74},{"x":1.64,"y":5.03},{"x":1.68,"y":4.7},{"x":1.72,"y":4.97},{"x":1.76,"y":4.64},{"x":1.8,"y":4.9},{"x":1.84,"y":4.56},{"x":1.88,"y":4.83},{"x":1.92,"y":4.5},{"x":1.96,"y":4.77},
      {"x":2,"y":4.46},{"x":2.04,"y":4.75},{"x":2.08,"y":4.45},{"x":2.12,"y":4.76},{"x":2.16,"y":4.48},{"x":2.2,"y":4.81},{"x":2.24,"y":4.55},{"x":2.28,"y":4.88},{"x":2.32,"y":4.62},{"x":2.36,"y":4.96},{"x":2.4,"y":4.69},{"x":2.44,"y":5.02},{"x":2.48,"y":4.74},{"x":2.52,"y":5.05},{"x":2.56,"y":4.75},{"x":2.6,"y":5.04},{"x":2.64,"y":4.73},{"x":2.68,"y":5},{"x":2.72,"y":4.67},{"x":2.76,"y":4.94},{"x":2.8,"y":4.6},{"x":2.84,"y":4.86},{"x":2.88,"y":4.53},{"x":2.92,"y":4.8},{"x":2.96,"y":4.47},
      {"x":3,"y":4.76},{"x":3.04,"y":4.45},{"x":3.08,"y":4.75},{"x":3.12,"y":4.46},{"x":3.16,"y":4.78},{"x":3.2,"y":4.51},{"x":3.24,"y":4.85},{"x":3.28,"y":4.58},{"x":3.32,"y":4.92},{"x":3.36,"y":4.66},{"x":3.4,"y":4.99},{"x":3.44,"y":4.72},{"x":3.48,"y":5.04},{"x":3.52,"y":4.75},{"x":3.56,"y":5.05},{"x":3.6,"y":4.74},{"x":3.64,"y":5.03},{"x":3.68,"y":4.7},{"x":3.72,"y":4.97},{"x":3.76,"y":4.64},{"x":3.8,"y":4.9},{"x":3.84,"y":4.56},{"x":3.88,"y":4.83},{"x":3.92,"y":4.5},{"x":3.96,"y":4.77},
      {"x":4,"y":4.46},{"x":4.04,"y":4.75},{"x":4.08,"y":4.45},{"x":4.12,"y":4.76},{"x":4.16,"y":4.48},{"x":4.2,"y":4.81},{"x":4.24,"y":4.55},{"x":4.28,"y":4.88},{"x":4.32,"y":4.62},{"x":4.36,"y":4.96},{"x":4.4,"y":4.69},{"x":4.44,"y":5.02},{"x":4.48,"y":4.74},{"x":4.52,"y":5.05},{"x":4.56,"y":4.75},{"x":4.6,"y":5.04},{"x":4.64,"y":4.73},{"x":4.68,"y":5},{"x":4.72,"y":4.67},{"x":4.76,"y":4.94},{"x":4.8,"y":4.6},{"x":4.84,"y":4.86},{"x":4.88,"y":4.53},{"x":4.92,"y":4.8},{"x":4.96,"y":4.47},
      {"x":5,"y":4.76},{"x":5.04,"y":4.45},{"x":5.08,"y":4.75},{"x":5.12,"y":4.46},{"x":5.16,"y":4.78},{"x":5.2,"y":4.51},{"x":5.24,"y":4.85},{"x":5.28,"y":4.58},{"x":5.32,"y":4.92},{"x":5.36,"y":4.66},{"x":5.4,"y":4.99},{"x":5.44,"y":4.72},{"x":5.48,"y":5.04},{"x":5.52,"y":4.75},{"x":5.56,"y":5.05},{"x":5.6,"y":4.74},{"x":5.64,"y":5.03},{"x":5.68,"y":4.7},{"x":5.72,"y":4.97},{"x":5.76,"y":4.64},{"x":5.8,"y":4.9},{"x":5.84,"y":4.56},{"x":5.88,"y":4.83},{"x":5.92,"y":4.5},{"x":5.96,"y":4.77},
      {"x":6,"y":4.46},{"x":6.04,"y":4.75},{"x":6.08,"y":4.45},{"x":6.12,"y":4.76},{"x":6.16,"y":4.48},{"x":6.2,"y":4.81},{"x":6.24,"y":4.55},{"x":6.28,"y":4.88},{"x":6.32,"y":4.62},{"x":6.36,"y":4.96},{"x":6.4,"y":4.69},{"x":6.44,"y":5.02},{"x":6.48,"y":4.74},{"x":6.52,"y":5.05},{"x":6.56,"y":4.75},{"x":6.6,"y":5.04},{"x":6.64,"y":4.73},{"x":6.68,"y":5},{"x":6.72,"y":4.67},{"x":6.76,"y":4.94},{"x":6.8,"y":4.6},{"x":6.84,"y":4.86},{"x":6.88,"y":4.53},{"x":6.92,"y":4.8},{"x":6.96,"y":4.47},
      {"x":7,"y":4.76},{"x":7.04,"y":4.45},{"x":7.08,"y":4.75},{"x":7.12,"y":4.46},{"x":7.16,"y":4.78},{"x":7.2,"y":4.51},{"x":7.24,"y":4.85},{"x":7.28,"y":4.58},{"x":7.32,"y":4.92},{"x":7.36,"y":4.66},{"x":7.4,"y":4.99},{"x":7.44,"y":4.72},{"x":7.48,"y":5.04},{"x":7.52,"y":4.75},{"x":7.56,"y":5.05},{"x":7.6,"y":4.74},{"x":7.64,"y":5.03},{"x":7.68,"y":4.7},{"x":7.72,"y":4.97},{"x":7.76,"y":4.64},{"x":7.8,"y":4.9},{"x":7.84,"y":4.56},{"x":7.88,"y":4.83},{"x":7.92,"y":4.5},{"x":7.96,"y":4.77},
      {"x":8,"y":4.46},{"x":8.04,"y":4.75},{"x":8.08,"y":4.45},{"x":8.12,"y":4.76},{"x":8.16,"y":4.48},{"x":8.2,"y":4.81},{"x":8.24,"y":4.55},{"x":8.28,"y":4.88},{"x":8.32,"y":4.62},{"x":8.36,"y":4.96},{"x":8.4,"y":4.69},{"x":8.44,"y":5.02},{"x":8.48,"y":4.74},{"x":8.52,"y":5.05},{"x":8.56,"y":4.75},{"x":8.6,"y":5.04},{"x":8.64,"y":4.73},{"x":8.68,"y":5},{"x":8.72,"y":4.67},{"x":8.76,"y":4.94},{"x":8.8,"y":4.6},{"x":8.84,"y":4.86},{"x":8.88,"y":4.53},{"x":8.92,"y":4.8},{"x":8.96,"y":4.47},
      {"x":9,"y":4.76},{"x":9.04,"y":4.45},{"x":9.08,"y":4.75},{"x":9.12,"y":4.46},{"x":9.16,"y":4.78},{"x":9.2,"y":4.51},{"x":9.24,"y":4.85},{"x":9.28,"y":4.58},{"x":9.32,"y":4.92},{"x":9.36,"y":4.66},{"x":9.4,"y":4.99},{"x":9.44,"y":4.72},{"x":9.48,"y":5.04},{"x":9.52,"y":4.75},{"x":9.56,"y":5.05},{"x":9.6,"y":4.74},{"x":9.64,"y":5.03},{"x":9.68,"y":4.7},{"x":9.72,"y":4.97},{"x":9.76,"y":4.64},{"x":9.8,"y":4.9},{"x":9.84,"y":4.56},{"x":9.88,"y":4.83},{"x":9.92,"y":4.5},{"x":9.96,"y":4.77},
      {"x":10,"y":4.46}
    ]
  },
  "columns": 2,
  "spacing": {"row": 21, "column": 37.5},
  "resolve": {"scale": {"x": "independent", "y": "independent", "color": "independent"}, "legend": {"color": "independent"}},
  "concat": [
    {
      "width": 497, "height": 321,
      "title": "Temporal Evolution of Rear Blade Thrust",
      "encoding": {
        "x": {"field": "x", "type": "quantitative", "scale": {"domain": [0, 10], "nice": false, "zero": false}, "axis": {"title": "Revolutions", "values": [0, 2, 4, 6, 8, 10]}},
        "y": {"field": "y", "type": "quantitative", "scale": {"domain": [-8, 4], "nice": false, "zero": false}, "axis": {"title": "Force (% Fx)", "values": [-8, -6, -4, -2, 0, 2, 4], "titlePadding": 17.5}}
      },
      "layer": [
        {"data": {"name": "bladeThrustDef"}, "mark": {"type": "line", "clip": true, "strokeWidth": 1}, "encoding": {"color": {"datum": "Deformable mesh", "scale": {"domain": ["Deformable mesh", "Rigid mesh"], "range": ["#000000", "#adadad"]}}}},
        {"data": {"name": "bladeThrustRig"}, "mark": {"type": "line", "clip": true, "strokeWidth": 1}, "encoding": {"color": {"datum": "Rigid mesh"}}}
      ]
    },
    {
      "width": 485, "height": 321,
      "title": "Temporal Evolution of Rear Row Thrust",
      "encoding": {
        "x": {"field": "x", "type": "quantitative", "scale": {"domain": [0, 10], "nice": false, "zero": false}, "axis": {"title": "Revolutions", "values": [0, 2, 4, 6, 8, 10]}},
        "y": {"field": "y", "type": "quantitative", "scale": {"domain": [-55, -45], "nice": false, "zero": false}, "axis": {"title": "Force (% Fx)", "values": [-54, -52, -50, -48, -46], "titlePadding": 20}}
      },
      "layer": [
        {"data": {"name": "rowThrustDef"}, "mark": {"type": "line", "clip": true, "strokeWidth": 1}, "encoding": {"color": {"datum": "Deformable mesh", "scale": {"domain": ["Deformable mesh", "Rigid mesh"], "range": ["#000000", "#adadad"]}}}},
        {"data": {"name": "rowThrustRig"}, "mark": {"type": "line", "clip": true, "strokeWidth": 1}, "encoding": {"color": {"datum": "Rigid mesh"}}}
      ]
    },
    {
      "width": 497, "height": 322,
      "title": {"text": "Temporal Evolution of Rear Blade Vertical Force", "dx": 5, "offset": 6},
      "encoding": {
        "x": {"field": "x", "type": "quantitative", "scale": {"domain": [0, 10], "nice": false, "zero": false, "range": [9.5, 497]}, "axis": {"title": "Revolutions", "values": [0, 2, 4, 6, 8, 10], "titleX": 253}},
        "y": {"field": "y", "type": "quantitative", "scale": {"domain": [-20, 20], "nice": false, "zero": false}, "axis": {"title": "Force (% Fx)", "values": [-20, -15, -10, -5, 0, 5, 10, 15, 20], "titlePadding": 17.5, "offset": -9.5}}
      },
      "layer": [
        {"data": {"name": "bladeVertDef"}, "mark": {"type": "line", "clip": true, "strokeWidth": 1}, "encoding": {"color": {"datum": "Deformable mesh", "scale": {"domain": ["Deformable mesh", "Rigid mesh"], "range": ["#000000", "#adadad"]}}}},
        {"data": {"name": "bladeVertRig"}, "mark": {"type": "line", "clip": true, "strokeWidth": 1}, "encoding": {"color": {"datum": "Rigid mesh"}}}
      ]
    },
    {
      "width": 485, "height": 322,
      "title": {"text": "Temporal Evolution of Rear Row Vertical Force", "offset": 6},
      "encoding": {
        "x": {"field": "x", "type": "quantitative", "scale": {"domain": [0, 10], "nice": false, "zero": false}, "axis": {"title": "Revolutions", "values": [0, 2, 4, 6, 8, 10]}},
        "y": {"field": "y", "type": "quantitative", "scale": {"domain": [0, 20], "nice": false, "zero": false}, "axis": {"title": "Force (% Fx)", "values": [0, 5, 10, 15, 20], "titlePadding": 24}}
      },
      "layer": [
        {"data": {"name": "rowVertDef"}, "mark": {"type": "line", "clip": true, "strokeWidth": 1}, "encoding": {"color": {"datum": "Deformable mesh", "scale": {"domain": ["Deformable mesh", "Rigid mesh"], "range": ["#000000", "#adadad"]}}}},
        {"data": {"name": "rowVertRig"}, "mark": {"type": "line", "clip": true, "strokeWidth": 1}, "encoding": {"color": {"datum": "Rigid mesh"}}}
      ]
    }
  ]
}
